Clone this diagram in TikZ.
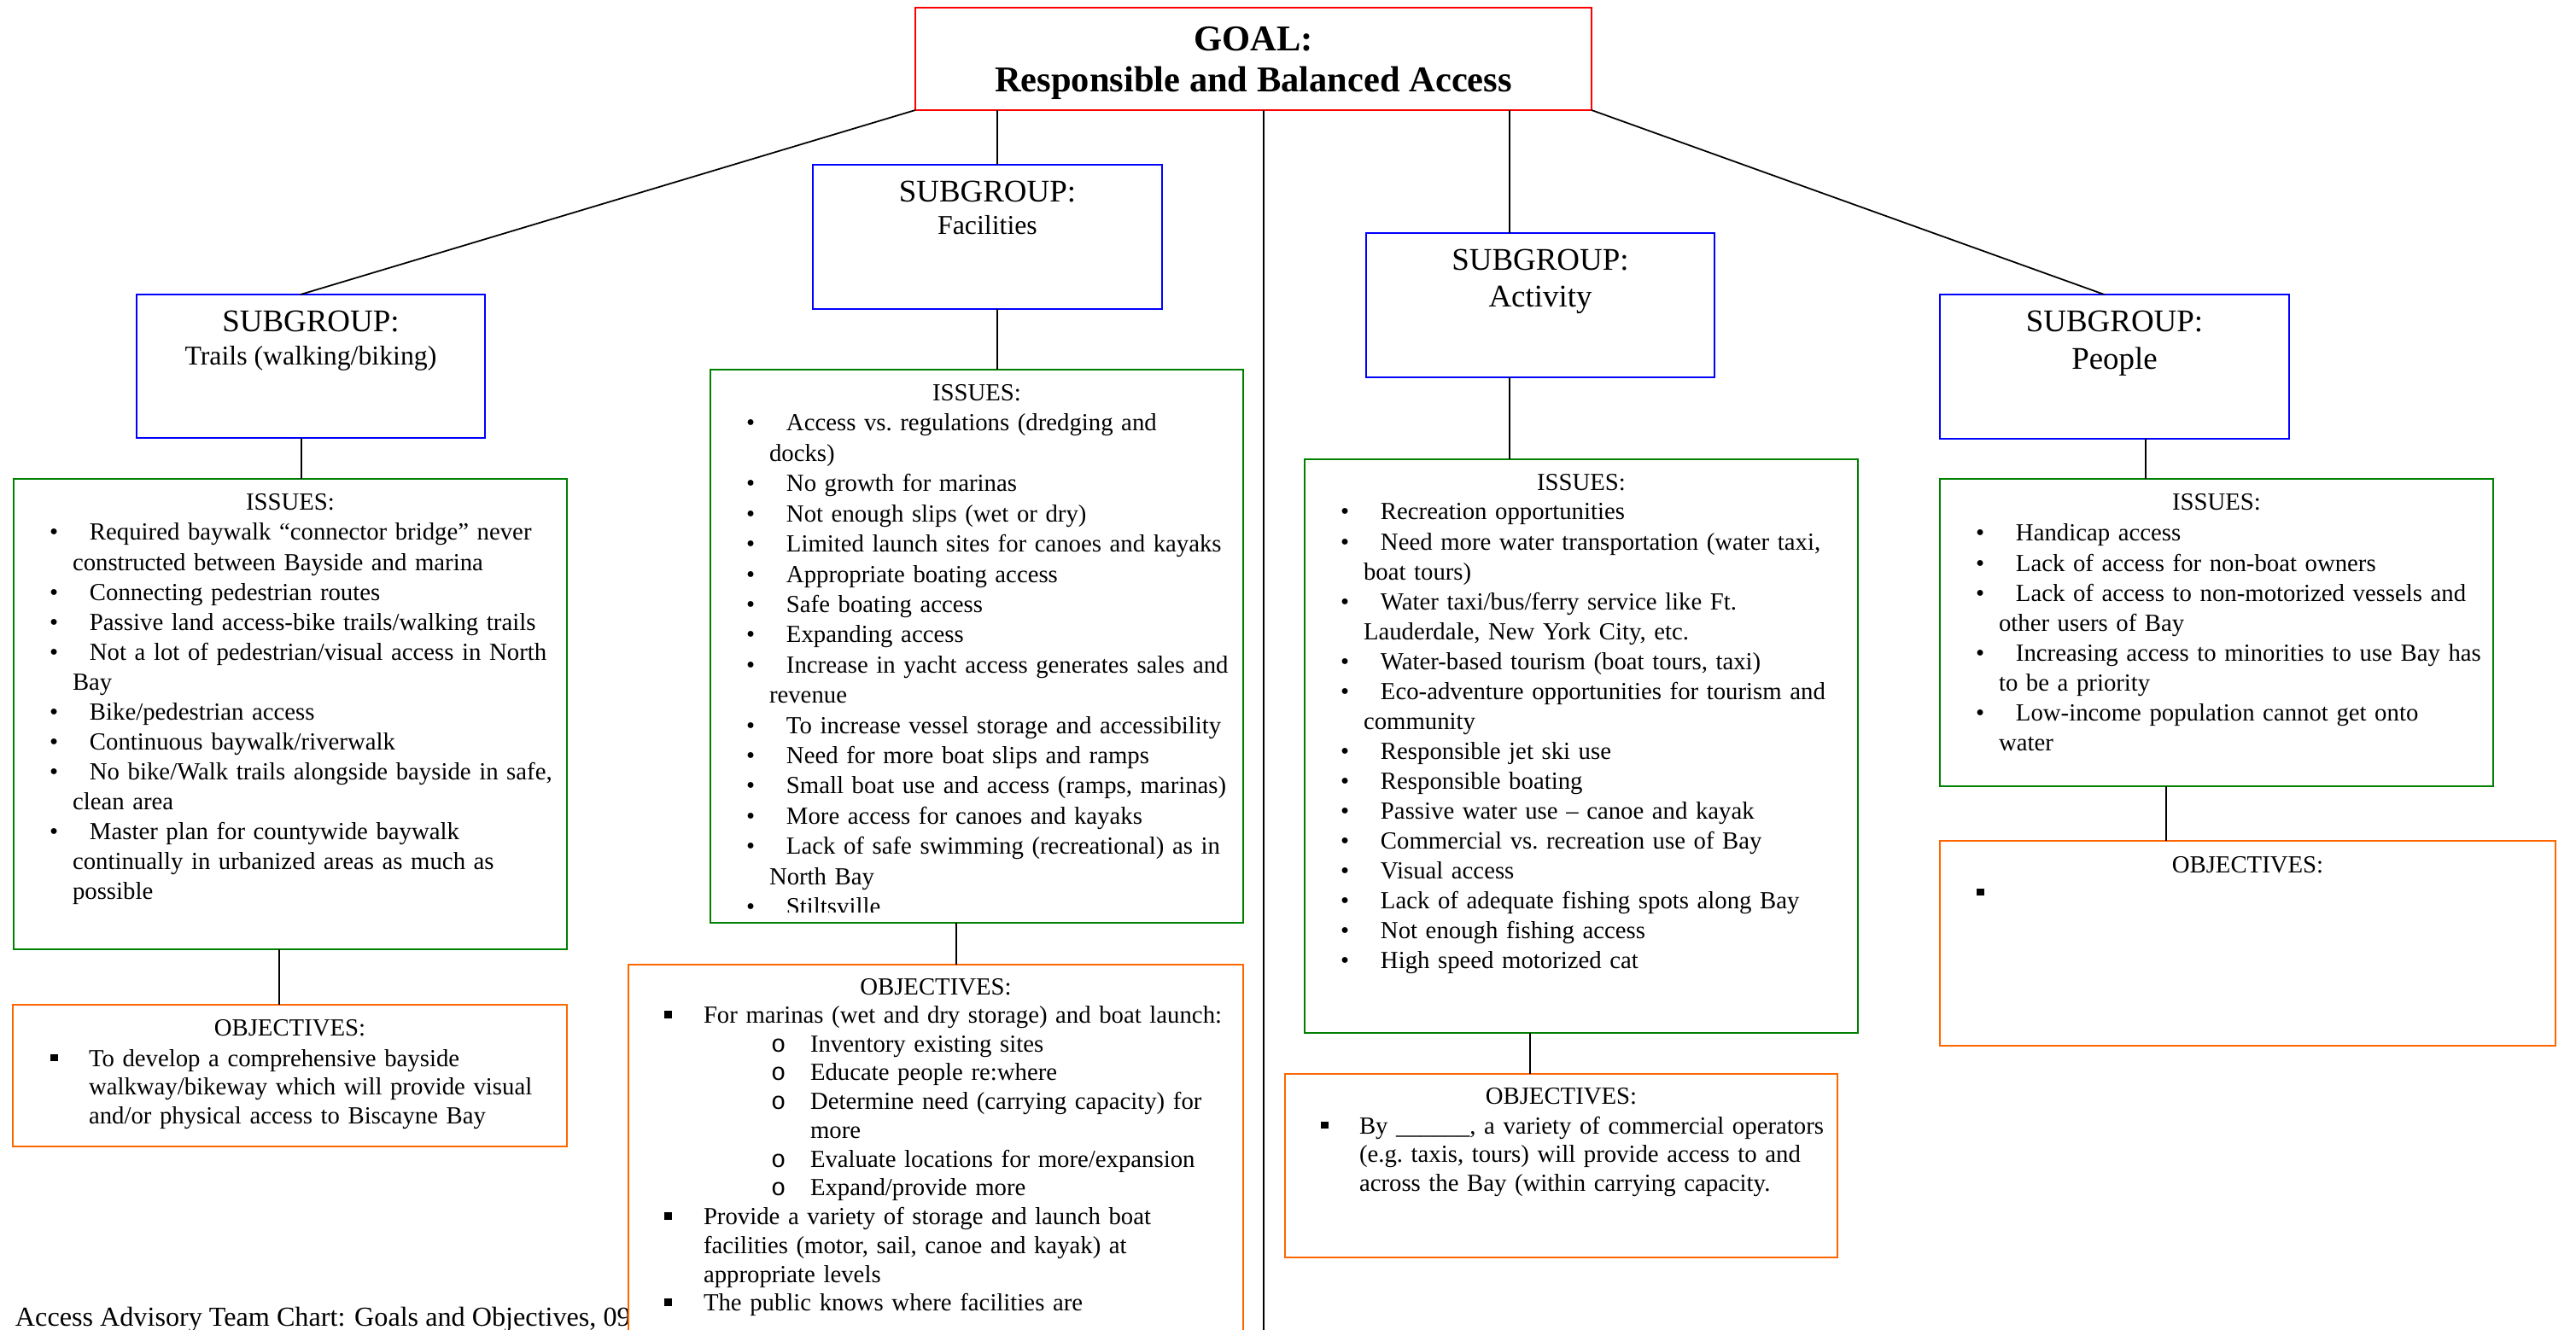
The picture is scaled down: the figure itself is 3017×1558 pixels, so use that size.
\documentclass[tikz,border=0pt]{standalone}
\usepackage{fontspec}
\setmainfont{Liberation Serif}
\newfontfamily\monofont{Liberation Mono}
\usetikzlibrary{fit,calc}

\definecolor{goalred}{RGB}{255,0,0}
\definecolor{subblue}{RGB}{0,0,255}
\definecolor{issgreen}{RGB}{0,128,0}
\definecolor{objorange}{RGB}{255,102,0}

% one drawing unit
\newlength\px
\setlength\px{0.01cm}

% type sizes
\newcommand\fbody{\fontsize{8.18}{9.96}\selectfont\frenchspacing}
\newcommand\fbodyloose{\fontsize{8.18}{10.07}\selectfont\frenchspacing}
\newcommand\fobj{\fontsize{8.18}{9.59}\selectfont\frenchspacing}
\newcommand\fsg{\fontsize{10.5}{12}\selectfont}
\newcommand\fsgsmall{\fontsize{9.05}{11}\selectfont}
\newcommand\ftitle{\fontsize{12.09}{13.7}\selectfont\bfseries}
\newcommand\ffoot{\fontsize{9.15}{11}\selectfont}

% list item: bullet offset, text offset, continuation offset, bullet, text
\newcommand\lstitem[5]{\leftskip=#3\relax\noindent
  \hspace*{\dimexpr#1-#3\relax}\makebox[\dimexpr#2-#1\relax][l]{#4}#5\par}
\newcommand\sqbullet{\rule[6\px]{8.5\px}{8.5\px}}
\newcommand\iss[1]{\lstitem{42\px}{89\px}{69\px}{\textbullet}{#1}}
\newcommand\objitem[3]{\lstitem{#1}{#2}{#2}{\sqbullet}{#3}}
\newcommand\subentry[1]{\lstitem{167\px}{213\px}{213\px}{\monofont o}{#1}}

\tikzset{
  every node/.style={inner sep=0pt, outer sep=0pt},
  goalbox/.style={draw=goalred, line width=0.6pt},
  subbox/.style={draw=subblue, line width=0.6pt},
  issbox/.style={draw=issgreen, line width=0.6pt},
  objbox/.style={draw=objorange, line width=0.6pt, fill=white},
  link/.style={draw=black, line width=0.5pt},
  heading/.style={anchor=base, font=\fbody},
  sglabel/.style={anchor=base, font=\fsg},
  sgsmall/.style={anchor=base, font=\fsgsmall},
  isslist/.style={anchor=base west, text width=9cm, font=\fbody},
  objlist/.style={anchor=base west, text width=9cm, font=\fobj},
}

\begin{document}
\begin{tikzpicture}[x=0.01cm, y=-0.01cm]
\useasboundingbox (0,0) rectangle (3017,1558);

% ---------- boxes ----------
\node[goalbox, fit={(1072,9) (1864,129)}] (goal) {};

\node[subbox, fit={(160,345) (568,513)}] (trails) {};
\node[issbox, fit={(16,561) (664,1112)}] (trIss) {};
\node[objbox, fit={(15,1177) (664,1343)}] (trObj) {};

\node[subbox, fit={(952,193) (1361,362)}] (facSG) {};
\node[issbox, fit={(832,433) (1456,1081)}] (facIss) {};

\node[subbox, fit={(1600,273) (2008,442)}] (actSG) {};
\node[issbox, fit={(1528,538) (2176,1210)}] (actIss) {};
\node[objbox, fit={(1505,1258) (2152,1473)}] (actObj) {};

\node[subbox, fit={(2272,345) (2681,514)}] (people) {};
\node[issbox, fit={(2272,561) (2920,921)}] (peoIss) {};
\node[objbox, fit={(2272,985) (2993,1225)}] (peoObj) {};

% ---------- connectors ----------
\coordinate (xT1) at (353,0);
\coordinate (xT2) at (327,0);
\coordinate (xF1) at (1168,0);
\coordinate (xF2) at (1120,0);
\coordinate (xD) at (1480,0);
\coordinate (xA1) at (1768,0);
\coordinate (xA2) at (1792,0);
\coordinate (xP1) at (2513,0);
\coordinate (xP2) at (2537,0);
\coordinate (divEnd) at (1480,1558);

\draw[link] (goal.south west) -- ([xshift=-0.12cm]trails.north);
\draw[link] (goal.south east) -- ([xshift=-0.12cm]people.north);
\draw[link] (goal.south -| xF1) -- (facSG.north -| xF1);
\draw[link] (goal.south -| xD) -- (divEnd);
\draw[link] (goal.south -| xA1) -- (actSG.north -| xA1);

\draw[link] (trails.south -| xT1) -- (trIss.north -| xT1);
\draw[link] (trIss.south -| xT2) -- (trObj.north -| xT2);
\draw[link] (facSG.south -| xF1) -- (facIss.north -| xF1);
\draw[link] (actSG.south -| xA1) -- (actIss.north -| xA1);
\draw[link] (actIss.south -| xA2) -- (actObj.north -| xA2);
\draw[link] (people.south -| xP1) -- (peoIss.north -| xP1);
\draw[link] (peoIss.south -| xP2) -- (peoObj.north -| xP2);

% ---------- footer, partly covered by the facilities objectives ----------
\node[anchor=base west, font=\ffoot] (footer) at (18,1553)
  {Access Advisory Team Chart: Goals and Objectives, 09/};

\node[objbox, fit={(736,1130) (1456,1640)}] (facObj) {};
\draw[link] (facIss.south -| xF2) -- (facObj.north -| xF2);

% ---------- goal ----------
\node[anchor=base, font=\ftitle] (goalA) at ($(goal.north)+(0,51)$) {GOAL:};
\node[anchor=base, font=\ftitle] (goalB) at ($(goal.north)+(0,99)$) {Responsible and Balanced Access};

% ---------- subgroup labels ----------
\node[sglabel] (trailsA) at ($(trails.north)+(0,44)$) {SUBGROUP:};
\node[sgsmall] (trailsB) at ($(trails.north)+(0,83)$) {Trails (walking/biking)};
\node[sglabel] (facA) at ($(facSG.north)+(0,44)$) {SUBGROUP:};
\node[sgsmall] (facB) at ($(facSG.north)+(0,82)$) {Facilities};
\node[sglabel] (actA) at ($(actSG.north)+(0,44)$) {SUBGROUP:};
\node[sglabel] (actB) at ($(actSG.north)+(0,87)$) {Activity};
\node[sglabel] (peoA) at ($(people.north)+(0,44)$) {SUBGROUP:};
\node[sglabel] (peoB) at ($(people.north)+(0,88)$) {People};

% ---------- trails ----------
\node[heading] (trIssH) at ($(trIss.north)+(0,36.5)$) {ISSUES:};
\node[isslist] (trIssL) at ($(trIss.north west)+(0,72)$) {%
\iss{Required baywalk “connector bridge” never\newline constructed between Bayside and marina}
\iss{Connecting pedestrian routes}
\iss{Passive land access-bike trails/walking trails}
\iss{Not a lot of pedestrian/visual access in North\newline Bay}
\iss{Bike/pedestrian access}
\iss{Continuous baywalk/riverwalk}
\iss{No bike/Walk trails alongside bayside in safe,\newline clean area}
\iss{Master plan for countywide baywalk\newline continually in urbanized areas as much as\newline possible}};

\node[heading] (trObjH) at ($(trObj.north)+(0,36)$) {OBJECTIVES:};
\node[objlist] (trObjL) at ($(trObj.north west)+(0,72)$) {%
\objitem{44\px}{89\px}{To develop a comprehensive bayside\newline walkway/bikeway which will provide visual\newline and/or physical access to Biscayne Bay}};

% ---------- facilities ----------
\node[heading] (facIssH) at ($(facIss.north)+(0,36.5)$) {ISSUES:};
\begin{scope}
\clip (facIss.north west) rectangle ($(facIss.south east)+(0,-13)$);
\node[isslist, font=\fbodyloose] (facIssL) at ($(facIss.north west)+(0,72)$) {%
\iss{Access vs. regulations (dredging and\newline docks)}
\iss{No growth for marinas}
\iss{Not enough slips (wet or dry)}
\iss{Limited launch sites for canoes and kayaks}
\iss{Appropriate boating access}
\iss{Safe boating access}
\iss{Expanding access}
\iss{Increase in yacht access generates sales and\newline revenue}
\iss{To increase vessel storage and accessibility}
\iss{Need for more boat slips and ramps}
\iss{Small boat use and access (ramps, marinas)}
\iss{More access for canoes and kayaks}
\iss{Lack of safe swimming (recreational) as in\newline North Bay}
\iss{Stiltsville}};
\end{scope}

\node[heading] (facObjH) at ($(facObj.north)+(0,35.5)$) {OBJECTIVES:};
\node[objlist] (facObjL) at ($(facObj.north west)+(0,68.5)$) {%
\objitem{42\px}{88\px}{For marinas (wet and dry storage) and boat launch:}
\subentry{Inventory existing sites}
\subentry{Educate people re:where}
\subentry{Determine need (carrying capacity) for\newline more}
\subentry{Evaluate locations for more/expansion}
\subentry{Expand/provide more}
\objitem{42\px}{88\px}{Provide a variety of storage and launch boat\newline facilities (motor, sail, canoe and kayak) at\newline appropriate levels}
\objitem{42\px}{88\px}{The public knows where facilities are}};

% ---------- activity ----------
\node[heading] (actIssH) at ($(actIss.north)+(0,36)$) {ISSUES:};
\node[isslist] (actIssL) at ($(actIss.north west)+(0,71)$) {%
\iss{Recreation opportunities}
\iss{Need more water transportation (water taxi,\newline boat tours)}
\iss{Water taxi/bus/ferry service like Ft.\newline Lauderdale, New York City, etc.}
\iss{Water-based tourism (boat tours, taxi)}
\iss{Eco-adventure opportunities for tourism and\newline community}
\iss{Responsible jet ski use}
\iss{Responsible boating}
\iss{Passive water use – canoe and kayak}
\iss{Commercial vs. recreation use of Bay}
\iss{Visual access}
\iss{Lack of adequate fishing spots along Bay}
\iss{Not enough fishing access}
\iss{High speed motorized cat}};

\node[heading] (actObjH) at ($(actObj.north)+(0,35.5)$) {OBJECTIVES:};
\node[objlist] (actObjL) at ($(actObj.north west)+(0,70)$) {%
\objitem{42\px}{87\px}{By \_\_\_\_\_\_, a variety of commercial operators\newline (e.g. taxis, tours) will provide access to and\newline across the Bay (within carrying capacity.}};

% ---------- people ----------
\node[heading] (peoIssH) at ($(peoIss.north)+(0,37)$) {ISSUES:};
\node[isslist] (peoIssL) at ($(peoIss.north west)+(0,73)$) {%
\iss{Handicap access}
\iss{Lack of access for non-boat owners}
\iss{Lack of access to non-motorized vessels and\newline other users of Bay}
\iss{Increasing access to minorities to use Bay has\newline to be a priority}
\iss{Low-income population cannot get onto\newline water}};

\node[heading] (peoObjH) at ($(peoObj.north)+(0,37)$) {OBJECTIVES:};
\node[objlist] (peoObjL) at ($(peoObj.north west)+(0,70)$) {%
\objitem{43\px}{88\px}{\strut}};
\end{tikzpicture}
\end{document}
